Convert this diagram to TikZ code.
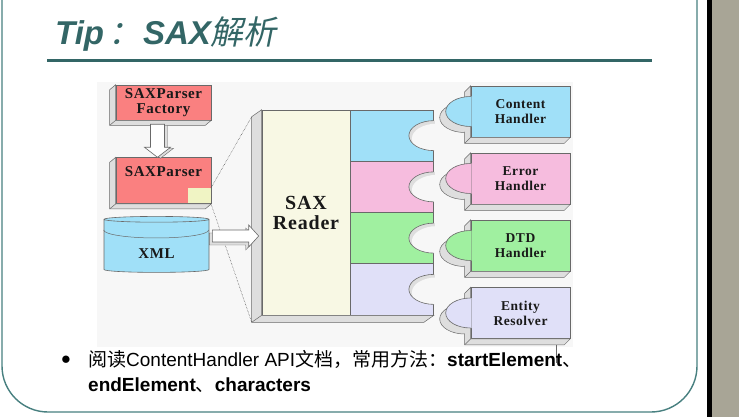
\documentclass[tikz,border=0pt]{standalone}
\usepackage{fontspec}
\setmainfont{Liberation Sans}
\newfontfamily\cjk{Noto Sans CJK SC}
\newfontfamily\cjkslant[FakeSlant=0.2]{Noto Sans CJK SC}
\newfontfamily\figfont[LetterSpace=4]{Liberation Serif}
\usetikzlibrary{shapes.geometric,positioning,calc,shadows}
\definecolor{slideteal}{RGB}{51,102,102}
\definecolor{frameteal}{RGB}{72,128,128}
\definecolor{sidegray}{RGB}{168,165,150}
\definecolor{panelgray}{RGB}{247,247,247}
\definecolor{bevelgray}{RGB}{222,222,222}
\definecolor{edgegray}{RGB}{105,105,105}
\definecolor{parserred}{RGB}{250,128,128}
\definecolor{zoomyellow}{RGB}{240,244,196}
\definecolor{readercream}{RGB}{248,248,228}
\definecolor{handlerblue}{RGB}{160,224,248}
\definecolor{handlerpink}{RGB}{246,188,222}
\definecolor{handlergreen}{RGB}{160,240,160}
\definecolor{handlerlilac}{RGB}{224,224,248}

\tikzset{
  face/.style={rectangle, draw=edgegray, line width=0.6pt, inner sep=0pt},
  bevel/.style={fill=bevelgray, draw=edgegray, line width=0.5pt},
  figtext/.style={align=center, text=black!90, font=\figfont\bfseries\fontsize{15}{14.5}\selectfont},
  handlertext/.style={align=center, text=black!90, font=\figfont\bfseries\fontsize{13.5}{15}\selectfont},
  readertext/.style={align=center, text=black!90, font=\figfont\bfseries\fontsize{20}{20}\selectfont},
  hollowarrow/.style={fill=white, draw=edgegray, line width=0.6pt, general shadow={#1, fill=bevelgray, draw=edgegray}},
  zoomline/.style={densely dotted, line width=0.5pt, black!75}
}

% side and bottom of a raised block
\newcommand\slab[3]{%
  \filldraw[bevel] (#1.north west) -- ++(#3) |- ($(#2.south east)+(#3)$) -- (#2.south east) -- (#1.north west |- #2.south east) -- cycle;
  \draw[bevel] (#1.north west |- #2.south east) -- ++(#3);}
% half disc bulging to the left (knobs and sockets)
\newcommand\halfdisc[2]{($(#1)+(#2)+(0,-15)$) arc[start angle=270, end angle=90, x radius=25, y radius=15]}

\begin{document}
\begin{tikzpicture}[x=1pt, y=-1pt]
    \useasboundingbox (0,0) rectangle (739,417);

    % Slide page
    \fill[white] (0,0) rectangle (739,417);
    \fill[sidegray] (712,0) rectangle (739,417);
    \fill[black] (707,0) rectangle (712,417);
    \draw[frameteal, line width=1.4pt, rounded corners=46pt] (2,-10) -- (2,412) -- (697,412) -- (697,-10);

    % Title
    \node[anchor=base west, inner sep=0pt, text=slideteal, font=\fontsize{33}{33}\selectfont\bfseries\itshape] (title) at (55,45)
        {Tip\hspace{4pt}{\cjkslant\mdseries\upshape ：}\hspace{2pt}SAX{\cjkslant\mdseries\upshape 解析}};
    \draw[slideteal, line width=3pt] (47,61) -- (652,61);

    % Figure panel
    \fill[panelgray] (97,82) rectangle (573,347);

    % Parser side
    \node[face, fill=parserred, figtext, minimum width=95pt, minimum height=35pt] (factory) at (163.5,102.5) {SAXParser\\Factory};
    \slab{factory}{factory}{-6,5}
    \node[face, fill=parserred, figtext, minimum width=95pt, minimum height=46pt, below=37pt of factory] (parser) {SAXParser\\[4pt]\mbox{}};
    \slab{parser}{parser}{-6,5}
    \node[inner sep=0pt, fill=zoomyellow, minimum width=23pt, minimum height=15pt, anchor=south east] (sq) at ($(parser.south east)+(-0.4,-0.4)$) {};
    \coordinate (da) at ($(factory.south)+(-6,4)$);
    \coordinate (db) at ($(parser.north)+(-6,0)$);
    \draw[hollowarrow={shadow xshift=3pt, shadow yshift=-1pt}] ($(da)+(-7,0)$) -- ($(db)+(-7,-10)$) -- ($(db)+(-13,-10)$) -- (db)
        -- ($(db)+(13,-10)$) -- ($(db)+(7,-10)$) -- ($(da)+(7,0)$) -- cycle;

    % XML document
    \node[cylinder, shape border rotate=90, aspect=0.16, draw=edgegray, line width=0.6pt, cylinder uses custom fill,
        cylinder body fill=handlerblue, cylinder end fill=handlerblue, minimum width=105pt, minimum height=56pt,
        inner sep=0pt, figtext, label={[figtext, yshift=-8pt]center:XML}] (xml) at (156.5,246) {\phantom{XML}};
    \draw[edgegray, line width=0.5pt] ($(xml.west)+(0,-16)$) arc[start angle=180, end angle=0, x radius=52.5, y radius=8];

    % SAX reader with its sockets
    \node[face, fill=readercream, readertext, minimum width=88pt, minimum height=205pt] (reader) at (306,212.5) {SAX\\Reader};
    \foreach \i/\col in {1/handlerblue,2/handlerpink,3/handlergreen,4/handlerlilac}
        \node[face, fill=\col, minimum width=83pt, minimum height=51.25pt, anchor=north west] (s\i) at ($(reader.north east)+(0,{(\i-1)*51.25})$) {};
    \slab{reader}{s4}{-10,7}
    \foreach \i in {1,...,4} {
        \begin{scope}
            \clip \halfdisc{s\i.east}{0,0} -- ++(1,0) -- ++(0,-30) -- cycle;
            \fill[bevelgray] (s\i.east) ++(-30,-20) rectangle ++(32,40);
            \fill[panelgray] \halfdisc{s\i.east}{3,3} -- ++(5,0) -- ++(0,-30) -- cycle;
        \end{scope}
        \draw[edgegray, line width=0.6pt] \halfdisc{s\i.east}{0,0};
    }
    \coordinate (rtop) at ($(reader.north west)+(-10,7)$);
    \coordinate (rbot) at ($(reader.south west)+(-10,7)$);
    \draw[zoomline] (sq.north east) -- (rtop);
    \draw[zoomline] (sq.south east) -- (rbot);

    % XML into the reader
    \coordinate (xa) at ($(xml.east)+(3,-10)$);
    \coordinate (xb) at ($(reader.west |- xa)+(-3,0)$);
    \draw[hollowarrow={shadow xshift=-3pt, shadow yshift=-3pt}] ($(xa)+(0,-6)$) -- ($(xb)+(-10,-6)$) -- ($(xb)+(-10,-11)$) -- (xb)
        -- ($(xb)+(-10,11)$) -- ($(xb)+(-10,6)$) -- ($(xa)+(0,6)$) -- cycle;

    % Handler pieces
    \foreach \i/\y/\col/\txt in {1/111.5/handlerblue/{Content\\Handler}, 2/178.5/handlerpink/{Error\\Handler},
                                 3/245.5/handlergreen/{DTD\\Handler}, 4/313/handlerlilac/{Entity\\Resolver}} {
        \node[face, fill=\col, handlertext, minimum width=99pt, minimum height=51pt] (h\i) at (520.5,\y) {\txt};
        \slab{h\i}{h\i}{-6,6}
        \foreach \k in {1,...,6}
            \fill[bevelgray] \halfdisc{h\i.west}{-\k,\k} -- cycle;
        \draw[edgegray, line width=0.5pt] \halfdisc{h\i.west}{-6,6};
        \fill[\col] \halfdisc{h\i.west}{0,0} -- ++(1,0) -- ++(0,-30) -- cycle;
        \draw[edgegray, line width=0.6pt] \halfdisc{h\i.west}{0,0};
    }
    \draw[edgegray, line width=0.5pt] ($(h4.south east)+(-14,6)$) -- ++(0,18);

    % Note below the figure
    \node[inner sep=0pt, font=\fontsize{17}{17}\selectfont] (dot) at (66,360) {●};
    \node[anchor=base west, inner sep=0pt, font=\fontsize{19}{25}\selectfont] (item1) at (88,366)
        {{\cjk 阅读}ContentHandler API{\cjk 文档，常用方法：}\textbf{startElement}{\cjk 、}};
    \node[anchor=base west, inner sep=0pt, font=\fontsize{19}{25}\selectfont] (item2) at (88,391)
        {\textbf{endElement}{\cjk 、}\textbf{characters}};
\end{tikzpicture}
\end{document}
